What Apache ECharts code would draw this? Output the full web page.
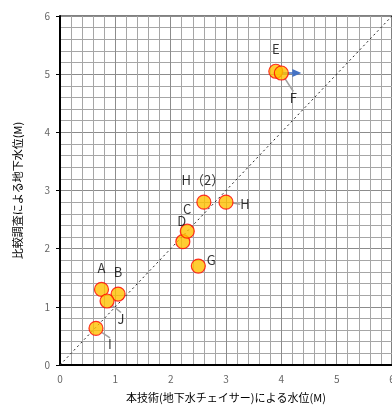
<!DOCTYPE html>
<html>
<head>
<meta charset="utf-8">
<script src="https://cdn.jsdelivr.net/npm/echarts@6/dist/echarts.min.js"></script>
<style>
  html, body { margin: 0; padding: 0; background: #fff; }
  #chart { width: 392px; height: 405px; }
</style>
</head>
<body>
<div id="chart"></div>
<script>
// 測点名と水位 (x: 本技術, y: 比較調査)
const names = ['A', 'B', 'J', 'I', 'D', 'C', 'H（2）', 'H', 'G', 'E', 'F']
const xValues = [0.75, 1.05, 0.85, 0.65, 2.22, 2.3, 2.6, 3.0, 2.5, 3.9, 4.0]
const yValues = [1.3, 1.22, 1.1, 0.63, 2.12, 2.3, 2.8, 2.8, 1.7, 5.05, 5.02]
const diagonal = [[0, 0], [6, 6]]
const arrowLine = [[4.0, 5.02], [4.28, 5.02]]
const axisTicks = [0, 1, 2, 3, 4, 5, 6]

// ラベル位置 (px)  [dx, dy, 引出線]
const labelShift = {
  'A': [0, -21, false],
  'B': [0, -22, false],
  'J': [14, 18, true],
  'I': [14, 16, true],
  'D': [-1, -21, false],
  'C': [0, -22, false],
  'H（2）': [-1, -22, false],
  'H': [19, 2, true],
  'G': [13, -6, false],
  'E': [0, -22, false],
  'F': [12, 25, true]
}

const points = names.map((n, i) => ({
  name: n,
  value: [xValues[i], yValues[i]],
  labelLine: { show: labelShift[n][2] }
}))

const font = '"Noto Sans CJK JP", "Noto Sans", sans-serif'
const axisMin = axisTicks[0]
const axisMax = axisTicks[axisTicks.length - 1]

const chart = echarts.init(document.getElementById('chart'))
chart.setOption({
  animation: false,
  grid: {
    left: 60, right: 0, top: 16, bottom: 40,
    outerBoundsMode: 'none',
    containLabel: false,
    show: true, borderColor: '#000', borderWidth: 1
  },
  xAxis: {
    type: 'value', min: axisMin, max: axisMax, interval: 1,
    name: '本技術(地下水チェイサー)による水位(M)',
    nameLocation: 'middle', nameGap: 27,
    nameTextStyle: { color: '#000', fontSize: 11, fontFamily: font },
    axisLine: { onZero: false, lineStyle: { color: '#000', width: 2 } },
    axisTick: { show: false },
    axisLabel: { color: '#666', fontSize: 10, fontFamily: font, margin: 9 },
    splitLine: { lineStyle: { color: '#8c8c8c', width: 1 } },
    minorTick: { show: false, splitNumber: 5 },
    minorSplitLine: { show: true, lineStyle: { color: '#a6a6a6', width: 1 } }
  },
  yAxis: {
    type: 'value', min: axisMin, max: axisMax, interval: 1,
    name: '比較調査による地下水位(M)',
    nameLocation: 'middle', nameGap: 37, nameRotate: 90,
    nameTextStyle: { color: '#000', fontSize: 11, fontFamily: font },
    axisLine: { onZero: false, lineStyle: { color: '#000', width: 2 } },
    axisTick: { show: true, length: 4, lineStyle: { color: '#000' } },
    axisLabel: { color: '#666', fontSize: 10, fontFamily: font, margin: 10 },
    splitLine: { lineStyle: { color: '#8c8c8c', width: 1 } },
    minorTick: { show: false, splitNumber: 5 },
    minorSplitLine: { show: true, lineStyle: { color: '#a6a6a6', width: 1 } }
  },
  series: [
    {
      type: 'line',
      data: diagonal,
      symbol: 'none',
      silent: true,
      lineStyle: { color: '#222', width: 1, type: [2, 3] },
      z: 3
    },
    {
      type: 'line',
      data: [
        { value: arrowLine[0], symbol: 'none' },
        { value: arrowLine[1], symbol: 'triangle', symbolSize: [8, 9], symbolRotate: -90 }
      ],
      lineStyle: { color: '#4472C4', width: 1.5 },
      itemStyle: { color: '#4472C4' },
      z: 4
    },
    {
      type: 'scatter',
      data: points,
      symbolSize: 14,
      itemStyle: { color: '#FFC000', borderColor: '#FF0000', borderWidth: 1.2 },
      label: {
        show: true,
        formatter: '{b}',
        position: 'inside',
        color: '#000',
        textBorderWidth: 0,
        fontSize: 13,
        fontFamily: font
      },
      labelLine: {
        show: true,
        lineStyle: { color: '#a0a0a0', width: 1.5 }
      },
      labelLayout: function (p) {
        const s = labelShift[names[p.dataIndex]] || [0, -20]
        return { dx: s[0], dy: s[1] }
      },
      z: 5
    }
  ]
})
</script>
</body>
</html>
